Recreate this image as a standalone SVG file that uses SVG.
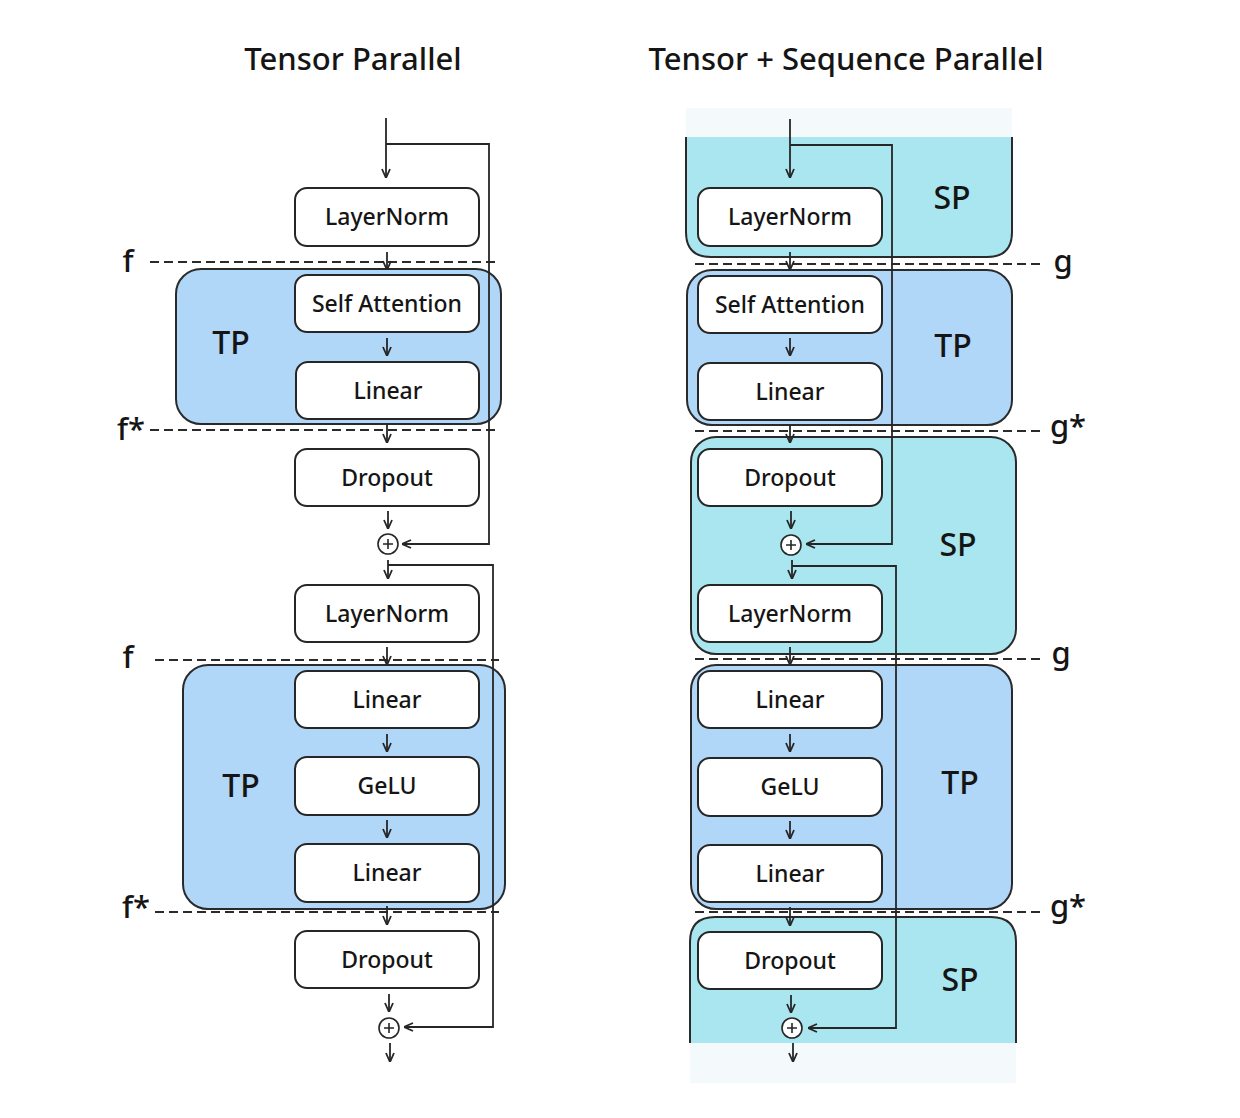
<svg xmlns="http://www.w3.org/2000/svg" width="1240" height="1118" viewBox="0 0 1240 1118">
<defs>
<style>
text{font-family:"Noto Sans","Open Sans",sans-serif;fill:#151515;text-anchor:middle;font-weight:500;}
.title{font-size:31px;}
.lbl{font-size:23px;}
.reg{font-size:32px;}
.side{font-size:31px;}
.box{fill:#fff;stroke:#262626;stroke-width:2;}
.tp{fill:#b0d6f8;stroke:#2a2a2a;stroke-width:2;}
.sp{fill:#aae6f0;stroke:#2a2a2a;stroke-width:2;}
.dash{stroke:#2a2a2a;stroke-width:2;stroke-dasharray:9 5;fill:none;}
.c{stroke:#262626;stroke-width:1.6;fill:none;}
.a{stroke:#262626;stroke-width:1.8;fill:none;marker-end:url(#ah);}
.plus{fill:#fff;stroke:#262626;stroke-width:1.6;}
</style>
<marker id="ah" viewBox="0 0 10 10" refX="10" refY="5" markerWidth="10" markerHeight="10" markerUnits="userSpaceOnUse" orient="auto">
<path d="M1,1 L10,5 L1,9" fill="none" stroke="#262626" stroke-width="1.8"/>
</marker>
</defs>
<rect width="1240" height="1118" fill="#fff"/>

<text class="title" x="353" y="70">Tensor Parallel</text>
<text class="title" x="846" y="70">Tensor + Sequence Parallel</text>

<g id="regions">
<rect x="686" y="108" width="326" height="30" fill="#f4f9fc"/>
<path class="sp" d="M686,137 L686,232 Q686,257 711,257 L987,257 Q1012,257 1012,232 L1012,137"/>
<rect id="tp-left-1" class="tp" x="176" y="269" width="325" height="155" rx="25"/>
<rect id="tp-right-1" class="tp" x="687" y="270" width="325" height="155" rx="25"/>
<rect id="sp-right-2" class="sp" x="691" y="437" width="325" height="217" rx="25"/>
<rect id="tp-left-2" class="tp" x="183" y="665" width="322" height="244" rx="25"/>
<rect id="tp-right-2" class="tp" x="691" y="665" width="321" height="244" rx="25"/>
<path class="sp" d="M690,1043 L690,942 Q690,917 715,917 L991,917 Q1016,917 1016,942 L1016,1043"/>
<rect x="690" y="1043" width="326" height="40" fill="#f4f9fc"/>
</g>

<g id="region-labels">
<text class="reg" x="231" y="354">TP</text>
<text class="reg" x="241" y="797">TP</text>
<text class="reg" x="952" y="209">SP</text>
<text class="reg" x="953" y="357">TP</text>
<text class="reg" x="958" y="556">SP</text>
<text class="reg" x="960" y="794">TP</text>
<text class="reg" x="960" y="991">SP</text>
</g>

<g id="boundaries">
<line class="dash" x1="150" y1="262" x2="497" y2="262"/>
<line class="dash" x1="150" y1="430" x2="497" y2="430"/>
<line class="dash" x1="155" y1="660" x2="499" y2="660"/>
<line class="dash" x1="155" y1="912" x2="499" y2="912"/>
<line class="dash" x1="695" y1="264" x2="1045" y2="264"/>
<line class="dash" x1="695" y1="431" x2="1045" y2="431"/>
<line class="dash" x1="695" y1="659" x2="1045" y2="659"/>
<line class="dash" x1="695" y1="912" x2="1045" y2="912"/>
<text class="side" x="128" y="272">f</text>
<text class="side" x="131" y="440">f*</text>
<text class="side" x="128" y="668">f</text>
<text class="side" x="136" y="918">f*</text>
<text class="side" x="1063" y="272">g</text>
<text class="side" x="1068" y="437">g*</text>
<text class="side" x="1061" y="664">g</text>
<text class="side" x="1068" y="917">g*</text>
</g>

<g id="connectors">
<line class="a" x1="386" y1="118" x2="386" y2="178"/>
<polyline class="a" points="386,144 489,144 489,544 402,544"/>
<line class="a" x1="387" y1="252" x2="387" y2="270"/>
<line class="a" x1="387" y1="338" x2="387" y2="356"/>
<line class="a" x1="387" y1="424" x2="387" y2="443"/>
<line class="a" x1="388" y1="511" x2="388" y2="529"/>
<line class="a" x1="388" y1="560" x2="388" y2="579"/>
<polyline class="a" points="388,565 493,565 493,1027 404,1027"/>
<line class="a" x1="387" y1="647" x2="387" y2="665"/>
<line class="a" x1="387" y1="734" x2="387" y2="752"/>
<line class="a" x1="387" y1="820" x2="387" y2="838"/>
<line class="a" x1="387" y1="906" x2="387" y2="925"/>
<line class="a" x1="389" y1="994" x2="389" y2="1012"/>
<line class="a" x1="390" y1="1043" x2="390" y2="1062"/>

<line class="a" x1="790" y1="119" x2="790" y2="178"/>
<polyline class="a" points="790,145 892,145 892,544 806,544"/>
<line class="a" x1="790" y1="252" x2="790" y2="270"/>
<line class="a" x1="790" y1="338" x2="790" y2="356"/>
<line class="a" x1="790" y1="425" x2="790" y2="443"/>
<line class="a" x1="791" y1="511" x2="791" y2="529"/>
<line class="a" x1="792" y1="560" x2="792" y2="579"/>
<polyline class="a" points="792,566 896,566 896,1028 808,1028"/>
<line class="a" x1="790" y1="647" x2="790" y2="665"/>
<line class="a" x1="790" y1="734" x2="790" y2="752"/>
<line class="a" x1="790" y1="821" x2="790" y2="839"/>
<line class="a" x1="790" y1="907" x2="790" y2="926"/>
<line class="a" x1="791" y1="995" x2="791" y2="1013"/>
<line class="a" x1="793" y1="1043" x2="793" y2="1062"/>
</g>

<g id="l-layernorm1"><rect class="box" x="295" y="188" width="184" height="58" rx="12"/><text class="lbl" x="387" y="225">LayerNorm</text></g>
<g id="l-selfattn"><rect class="box" x="295" y="275" width="184" height="57" rx="12"/><text class="lbl" x="387" y="312">Self Attention</text></g>
<g id="l-linear1"><rect class="box" x="296" y="362" width="183" height="57" rx="12"/><text class="lbl" x="388" y="399">Linear</text></g>
<g id="l-dropout1"><rect class="box" x="295" y="449" width="184" height="57" rx="12"/><text class="lbl" x="387" y="486">Dropout</text></g>
<g id="l-add1"><circle class="plus" cx="388" cy="544" r="10"/><path class="c" d="M383,544 H393 M388,539 V549"/></g>
<g id="l-layernorm2"><rect class="box" x="295" y="585" width="184" height="57" rx="12"/><text class="lbl" x="387" y="622">LayerNorm</text></g>
<g id="l-linear2"><rect class="box" x="295" y="671" width="184" height="57" rx="12"/><text class="lbl" x="387" y="708">Linear</text></g>
<g id="l-gelu"><rect class="box" x="295" y="757" width="184" height="58" rx="12"/><text class="lbl" x="387" y="794">GeLU</text></g>
<g id="l-linear3"><rect class="box" x="295" y="844" width="184" height="58" rx="12"/><text class="lbl" x="387" y="881">Linear</text></g>
<g id="l-dropout2"><rect class="box" x="295" y="931" width="184" height="57" rx="12"/><text class="lbl" x="387" y="968">Dropout</text></g>
<g id="l-add2"><circle class="plus" cx="389" cy="1028" r="10"/><path class="c" d="M384,1028 H394 M389,1023 V1033"/></g>

<g id="r-layernorm1"><rect class="box" x="698" y="188" width="184" height="58" rx="12"/><text class="lbl" x="790" y="225">LayerNorm</text></g>
<g id="r-selfattn"><rect class="box" x="698" y="276" width="184" height="57" rx="12"/><text class="lbl" x="790" y="313">Self Attention</text></g>
<g id="r-linear1"><rect class="box" x="698" y="363" width="184" height="57" rx="12"/><text class="lbl" x="790" y="400">Linear</text></g>
<g id="r-dropout1"><rect class="box" x="698" y="449" width="184" height="57" rx="12"/><text class="lbl" x="790" y="486">Dropout</text></g>
<g id="r-add1"><circle class="plus" cx="791" cy="545" r="10"/><path class="c" d="M786,545 H796 M791,540 V550"/></g>
<g id="r-layernorm2"><rect class="box" x="698" y="585" width="184" height="57" rx="12"/><text class="lbl" x="790" y="622">LayerNorm</text></g>
<g id="r-linear2"><rect class="box" x="698" y="671" width="184" height="57" rx="12"/><text class="lbl" x="790" y="708">Linear</text></g>
<g id="r-gelu"><rect class="box" x="698" y="758" width="184" height="58" rx="12"/><text class="lbl" x="790" y="795">GeLU</text></g>
<g id="r-linear3"><rect class="box" x="698" y="845" width="184" height="57" rx="12"/><text class="lbl" x="790" y="882">Linear</text></g>
<g id="r-dropout2"><rect class="box" x="698" y="932" width="184" height="57" rx="12"/><text class="lbl" x="790" y="969">Dropout</text></g>
<g id="r-add2"><circle class="plus" cx="792" cy="1028" r="10"/><path class="c" d="M787,1028 H797 M792,1023 V1033"/></g>
</svg>
